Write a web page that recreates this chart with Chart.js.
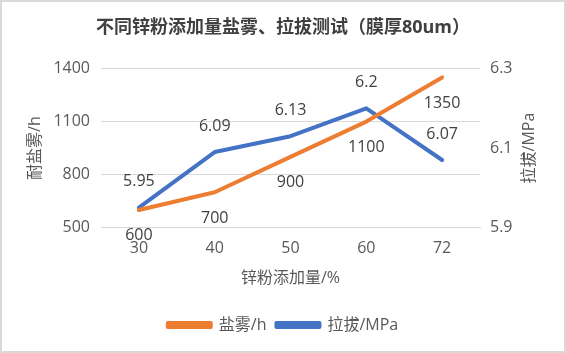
<!DOCTYPE html>
<html>
<head>
<meta charset="utf-8">
<script src="https://cdn.jsdelivr.net/npm/chart.js@4/dist/chart.umd.min.js"></script>
<style>
  html, body { margin: 0; padding: 0; background: #fff; }
  #wrap { width: 566px; height: 353px; position: relative; }
</style>
</head>
<body>
<div id="wrap"><canvas id="lineGraph"></canvas></div>
<script>
const categories = ['30', '40', '50', '60', '72'];
const saltSpray = [600, 700, 900, 1100, 1350];
const pullOff = [5.95, 6.09, 6.13, 6.2, 6.07];
const leftTicks = [500, 800, 1100, 1400];
const rightTicks = [5.9, 6.1, 6.3];

const FONT = "'Segoe UI', 'Open Sans', 'Noto Sans CJK SC', sans-serif";
const textGray = '#595959';

// draw value labels, axis titles and the frame
const extras = {
    id: 'extras',
    beforeDraw: (chart) => {
        const ctx = chart.ctx;
        ctx.save();
        ctx.fillStyle = 'white';
        ctx.fillRect(0, 0, chart.width, chart.height);
        ctx.restore();
    },
    afterDatasetsDraw: (chart) => {
        const ctx = chart.ctx;
        ctx.save();
        ctx.font = '16px ' + FONT;
        ctx.fillStyle = '#404040';
        ctx.textAlign = 'center';
        ctx.textBaseline = 'middle';
        chart.data.datasets.forEach((ds, i) => {
            const meta = chart.getDatasetMeta(i);
            const shift = i === 0 ? 26 : -26;
            meta.data.forEach((pt, j) => {
                ctx.fillText(String(ds.data[j]), pt.x, pt.y + shift);
            });
        });
        ctx.restore();
    },
    afterDraw: (chart) => {
        const ctx = chart.ctx;
        const area = chart.chartArea;
        const midY = (area.top + area.bottom) / 2;
        ctx.save();
        ctx.font = '16px ' + FONT;
        ctx.fillStyle = textGray;
        ctx.textAlign = 'center';
        ctx.textBaseline = 'middle';
        ctx.translate(35, midY);
        ctx.rotate(-Math.PI / 2);
        ctx.fillText('耐盐雾/h', 0, 0);
        ctx.restore();

        ctx.save();
        ctx.font = '16px ' + FONT;
        ctx.fillStyle = textGray;
        ctx.textAlign = 'center';
        ctx.textBaseline = 'middle';
        ctx.translate(529, midY);
        ctx.rotate(-Math.PI / 2);
        ctx.fillText('拉拔/MPa', 0, 0);
        ctx.restore();

        ctx.save();
        ctx.strokeStyle = '#d9d9d9';
        ctx.lineWidth = 2;
        ctx.strokeRect(1, 1, chart.width - 2, chart.height - 2);
        ctx.restore();
    }
};

const ctx = document.getElementById('lineGraph').getContext('2d');
const chart = new Chart(ctx, {
    type: 'line',
    data: {
        labels: categories,
        datasets: [{
            label: '盐雾/h',
            data: saltSpray,
            borderColor: '#ED7D31',
            backgroundColor: '#ED7D31',
            borderWidth: 4,
            pointRadius: 0,
            borderJoinStyle: 'round',
            borderCapStyle: 'round',
            yAxisID: 'y'
        }, {
            label: '拉拔/MPa',
            data: pullOff,
            borderColor: '#4472C4',
            backgroundColor: '#4472C4',
            borderWidth: 4,
            pointRadius: 0,
            borderJoinStyle: 'round',
            borderCapStyle: 'round',
            yAxisID: 'y1'
        }]
    },
    options: {
        responsive: true,
        maintainAspectRatio: false,
        animation: false,
        layout: { padding: { left: 0, right: 0, top: 0, bottom: 10 } },
        scales: {
            x: {
                offset: true,
                grid: { display: false, drawTicks: false },
                border: { display: true, color: '#d9d9d9' },
                ticks: { color: textGray, padding: 11, font: { size: 16, family: FONT } },
                title: {
                    display: true,
                    text: '锌粉添加量/%',
                    color: textGray,
                    font: { size: 16, family: FONT },
                    padding: { top: 0, bottom: 19 }
                }
            },
            y: {
                position: 'left',
                min: 500,
                max: 1400,
                afterBuildTicks: (axis) => { axis.ticks = leftTicks.map(v => ({ value: v })); },
                afterFit: (axis) => { axis.width = 101; },
                grid: { color: '#d9d9d9', lineWidth: 1, drawTicks: false },
                border: { display: false },
                ticks: {
                    color: textGray,
                    padding: 11,
                    font: { size: 16, family: FONT },
                    callback: (v) => String(v)
                }
            },
            y1: {
                position: 'right',
                min: 5.9,
                max: 6.3,
                afterBuildTicks: (axis) => { axis.ticks = rightTicks.map(v => ({ value: v })); },
                afterFit: (axis) => { axis.width = 86; },
                grid: { display: false, drawTicks: false },
                border: { display: false },
                ticks: {
                    color: textGray,
                    padding: 10,
                    font: { size: 16, family: FONT },
                    callback: (v) => v.toFixed(1)
                }
            }
        },
        plugins: {
            title: {
                display: true,
                text: '不同锌粉添加量盐雾、拉拔测试（膜厚80um）',
                color: '#404040',
                font: { size: 18, weight: 'bold', family: FONT },
                padding: { top: 17, bottom: 30 }
            },
            legend: {
                position: 'bottom',
                labels: {
                    color: textGray,
                    font: { size: 16, family: FONT },
                    boxWidth: 43,
                    boxHeight: 4,
                    padding: 10
                }
            },
            tooltip: { enabled: false }
        }
    },
    plugins: [extras]
});
</script>
</body>
</html>
